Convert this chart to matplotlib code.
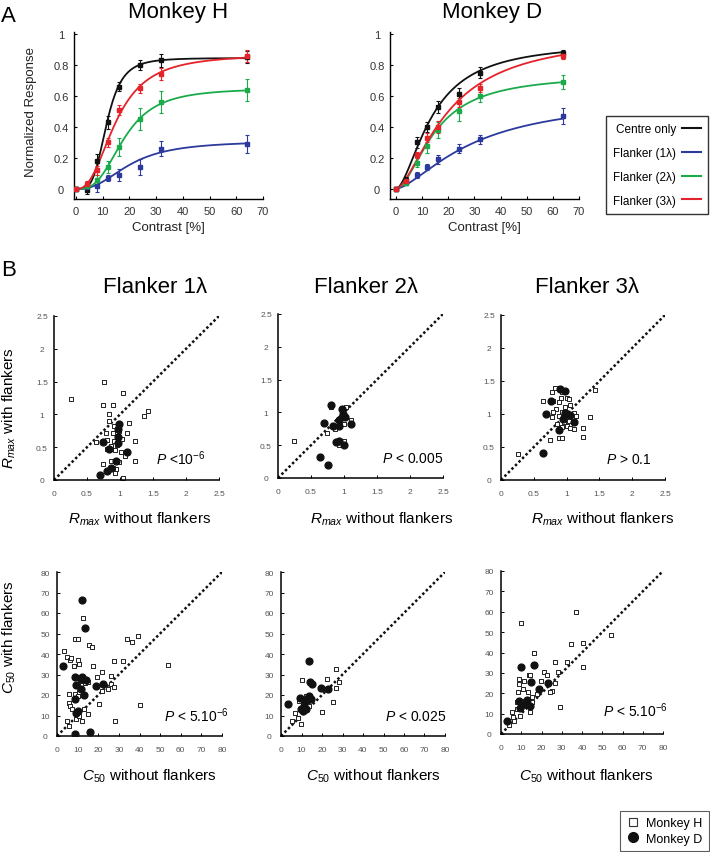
import numpy as np
import matplotlib
matplotlib.use("Agg")
import matplotlib.pyplot as plt
from matplotlib.lines import Line2D

plt.rcParams['font.family'] = ['Liberation Sans', 'DejaVu Sans']
plt.rcParams['mathtext.fontset'] = 'custom'
plt.rcParams['mathtext.rm'] = 'Liberation Sans'
plt.rcParams['mathtext.it'] = 'Liberation Sans:italic'

# ---- panel A: contrast response (mean +- sem) ----
contrast = [0, 4, 8, 12, 16, 24, 32, 64]
series_names = ["Centre only", "Flanker (1\u03bb)", "Flanker (2\u03bb)", "Flanker (3\u03bb)"]
series_colors = ["#111111", "#2b3a9c", "#1bab4b", "#e5232b"]

h_centre = [0, -0.01, 0.18, 0.43, 0.66, 0.80, 0.83, 0.85]
h_centre_err = [0.01, 0.02, 0.045, 0.04, 0.03, 0.03, 0.04, 0.04]
h_f1 = [0, 0.01, 0.02, 0.07, 0.09, 0.14, 0.26, 0.29]
h_f1_err = [0.01, 0.02, 0.04, 0.02, 0.04, 0.05, 0.05, 0.06]
h_f2 = [0, 0.02, 0.06, 0.14, 0.27, 0.45, 0.56, 0.64]
h_f2_err = [0.01, 0.02, 0.03, 0.04, 0.06, 0.07, 0.07, 0.07]
h_f3 = [0, 0.03, 0.12, 0.30, 0.51, 0.65, 0.74, 0.86]
h_f3_err = [0.01, 0.02, 0.03, 0.03, 0.03, 0.03, 0.04, 0.04]

d_centre = [0, 0.06, 0.30, 0.40, 0.53, 0.61, 0.75, 0.88]
d_centre_err = [0.01, 0.02, 0.035, 0.03, 0.04, 0.04, 0.035, 0.02]
d_f1 = [0, 0.04, 0.09, 0.14, 0.19, 0.26, 0.32, 0.47]
d_f1_err = [0.01, 0.01, 0.02, 0.02, 0.03, 0.03, 0.03, 0.05]
d_f2 = [0, 0.04, 0.17, 0.28, 0.38, 0.50, 0.60, 0.69]
d_f2_err = [0.01, 0.01, 0.03, 0.05, 0.05, 0.06, 0.04, 0.045]
d_f3 = [0, 0.05, 0.22, 0.33, 0.40, 0.56, 0.65, 0.86]
d_f3_err = [0.01, 0.01, 0.02, 0.03, 0.04, 0.03, 0.025, 0.02]

# Naka-Rushton fit parameters (Rmax, C50, n)
h_fits = [(0.845, 11.5, 4.0), (0.31, 20, 2.5), (0.65, 18, 3.0), (0.87, 15, 2.5)]
d_fits = [(0.95, 14, 1.7), (0.60, 30, 1.5), (0.74, 15, 1.8), (1.0, 20, 1.6)]

# ---- panel B: per-cell parameters ----
r1_h_x = [0.25, 0.76, 1.04, 0.75, 0.90, 0.84, 1.36, 1.43, 1.14, 0.83, 0.91, 0.99, 0.79, 0.89, 0.98, 1.11,
          0.64, 0.81, 0.91, 1.03, 1.23, 0.80, 0.93, 1.01, 1.07, 1.23, 0.74, 0.87, 0.99, 0.94, 0.89, 0.93,
          1.04, 0.97, 0.87, 0.95]
r1_h_y = [1.23, 1.50, 1.33, 1.15, 1.14, 1.00, 0.98, 1.05, 0.87, 0.90, 0.82, 0.82, 0.71, 0.72, 0.75, 0.71,
          0.58, 0.61, 0.59, 0.63, 0.60, 0.47, 0.45, 0.43, 0.37, 0.29, 0.25, 0.29, 0.27, 0.17, 0.19, 0.10,
          0.03, 0.67, 0.52, 0.53]
r1_d_x = [0.99, 0.97, 0.75, 0.97, 0.84, 1.11, 0.94, 0.81, 0.69, 0.86, 0.97]
r1_d_y = [0.86, 0.77, 0.58, 0.57, 0.48, 0.43, 0.29, 0.13, 0.08, 0.18, 0.66]

r2_h_x = [0.24, 0.74, 0.80, 1.03, 1.11, 0.88, 0.86, 0.93, 1.00, 1.00, 0.91, 0.96]
r2_h_y = [0.56, 0.69, 1.08, 1.08, 0.88, 0.80, 0.74, 0.51, 0.56, 0.83, 0.89, 0.93]
r2_d_x = [0.80, 0.97, 0.69, 0.83, 0.92, 0.98, 1.01, 1.11, 0.88, 0.93, 1.00, 0.63, 0.75, 0.93]
r2_d_y = [1.11, 1.05, 0.84, 0.80, 0.88, 0.98, 0.93, 0.83, 0.55, 0.57, 0.51, 0.32, 0.20, 0.80]

r3_h_x = [0.26, 0.74, 0.88, 0.93, 1.25, 1.25, 1.36, 1.44, 0.64, 0.77, 0.83, 0.90, 0.93, 0.91, 1.00, 1.04,
          0.79, 0.89, 0.98, 1.05, 0.84, 0.80, 0.77, 0.88, 0.93, 1.02, 1.11, 1.15, 0.86, 0.96, 1.00, 1.05,
          1.11, 0.93, 0.98, 1.04]
r3_h_y = [0.39, 0.61, 0.64, 0.64, 0.65, 0.79, 0.96, 1.36, 1.20, 1.33, 1.39, 1.39, 1.34, 1.25, 1.24, 1.23,
          1.20, 1.18, 1.11, 1.13, 1.07, 1.03, 0.95, 0.97, 1.03, 1.00, 1.02, 0.97, 0.85, 0.88, 0.82, 0.79,
          0.77, 0.80, 0.93, 0.90]
r3_d_x = [0.90, 0.97, 0.76, 0.69, 0.98, 1.05, 1.12, 0.88, 0.64, 0.95]
r3_d_y = [1.38, 1.35, 1.20, 1.00, 1.01, 0.98, 0.88, 0.76, 0.41, 0.92]

c1_h_x = [3.3, 4.9, 6.2, 7.0, 8.2, 8.5, 10.1, 10.1, 10.6, 12.6, 15.5, 17.1, 17.5, 19.3, 22.0, 27.4, 31.8,
          33.8, 36.3, 39.5, 53.6, 40.0, 28.2, 26.1, 26.1, 27.8, 24.5, 22.0, 20.4, 15.0, 5.7, 5.7, 6.5, 7.3,
          4.9, 5.7, 8.7, 8.7, 10.1, 10.6, 11.9, 11.9, 13.6, 14.7, 15.1, 9.0, 13.1, 10.6, 10.1]
c1_h_y = [41.5, 38.7, 37.1, 37.9, 34.1, 47.5, 47.2, 37.1, 35.0, 57.7, 44.2, 43.6, 34.1, 28.9, 31.4, 36.6, 36.6,
          47.2, 46.0, 48.8, 34.6, 15.0, 7.3, 29.3, 25.5, 23.9, 22.8, 22.0, 15.4, 10.6, 20.3, 16.3, 14.6, 13.0,
          7.3, 4.9, 20.3, 17.6, 24.4, 21.5, 26.8, 7.3, 26.0, 26.8, 26.5, 8.1, 13.0, 9.8, 19.5]
c1_d_x = [11.9, 13.6, 2.8, 8.7, 11.4, 12.2, 14.2, 9.3, 18.8, 22.4, 13.1, 8.7, 10.1, 9.0, 8.7, 15.8, 11.4]
c1_d_y = [66.3, 52.8, 34.1, 28.9, 27.6, 28.8, 27.3, 24.7, 24.4, 25.2, 20.0, 18.2, 12.2, 11.4, 0.8, 2.1, 22.8]

c2_h_x = [5.2, 6.9, 8.2, 9.8, 10.3, 9.0, 10.6, 19.9, 22.5, 26.6, 26.9, 28.2, 25.3, 12.2, 13.1, 13.9]
c2_h_y = [7.3, 11.1, 8.9, 5.7, 27.2, 17.1, 15.4, 11.9, 27.6, 32.8, 23.6, 26.3, 16.6, 19.5, 17.1, 14.6]
c2_d_x = [3.6, 13.6, 14.2, 15.0, 19.3, 22.9, 9.5, 9.8, 11.4, 13.1, 13.9, 14.4, 11.8, 10.6, 12.2]
c2_d_y = [15.4, 36.6, 26.5, 25.2, 23.6, 23.1, 18.7, 13.3, 14.6, 18.7, 19.5, 18.2, 17.1, 12.2, 13.0]

c3_h_x = [10.0, 16.1, 37.0, 34.6, 40.3, 40.7, 54.3, 26.7, 32.5, 28.0, 21.0, 22.6, 19.7, 26.7, 25.1, 24.3,
          28.9, 8.7, 8.7, 8.5, 11.6, 13.6, 14.1, 11.1, 13.3, 15.2, 17.7, 15.2, 14.1, 10.3, 7.9, 5.4, 6.2,
          3.8, 9.5, 7.9, 5.9, 12.0]
c3_h_y = [54.4, 39.7, 59.9, 44.1, 44.9, 33.1, 48.7, 35.1, 35.1, 30.5, 30.2, 28.9, 25.8, 25.0, 21.2, 20.7,
          13.1, 26.9, 24.5, 20.4, 26.1, 29.1, 29.1, 22.0, 20.4, 18.0, 19.6, 15.5, 10.6, 13.9, 12.2, 10.6, 6.5,
          4.4, 9.0, 15.5, 8.2, 16.3]
c3_d_x = [10.0, 16.4, 14.8, 23.0, 19.0, 8.7, 12.8, 14.1, 12.3, 9.5, 3.0]
c3_d_y = [32.7, 33.8, 25.3, 24.8, 22.0, 16.3, 16.8, 13.9, 14.7, 12.6, 6.2]

W, H = 710, 853


def box(left, top, right, bottom):
    return [left / W, 1 - bottom / H, (right - left) / W, (bottom - top) / H]


def naka_rushton(c, rmax, c50, n):
    return rmax * c ** n / (c ** n + c50 ** n)


fig = plt.figure(figsize=(7.1, 8.53), dpi=100)

# ---------------- panel A ----------------
axH = fig.add_axes(box(74, 33, 263, 200))
axD = fig.add_axes(box(390, 33, 579, 200))

h_vals = [h_centre, h_f1, h_f2, h_f3]
h_errs = [h_centre_err, h_f1_err, h_f2_err, h_f3_err]
d_vals = [d_centre, d_f1, d_f2, d_f3]
d_errs = [d_centre_err, d_f1_err, d_f2_err, d_f3_err]

for ax, vals, errs, fits, xmin in [(axH, h_vals, h_errs, h_fits, -0.75), (axD, d_vals, d_errs, d_fits, -2.3)]:
    cc = np.linspace(0, contrast[-1], 300)
    for i in range(4):
        ax.plot(cc, naka_rushton(cc, *fits[i]), color=series_colors[i], lw=1.3, zorder=2)
        ax.errorbar(contrast, vals[i], yerr=errs[i], fmt='s', ms=2.3, color=series_colors[i],
                    elinewidth=0.8, capsize=1.6, capthick=0.8, zorder=3)
    ax.set_xlim(xmin, 70)
    ax.set_ylim(-0.065, 1.013)
    ax.set_xticks(range(0, 71, 10))
    ax.set_yticks([0, 0.2, 0.4, 0.6, 0.8, 1])
    ax.set_yticklabels(["0", "0.2", "0.4", "0.6", "0.8", "1"])
    ax.spines['top'].set_visible(False)
    ax.spines['right'].set_visible(False)
    ax.spines['left'].set_linewidth(1.0)
    ax.spines['bottom'].set_linewidth(1.0)
    ax.tick_params(direction='in', length=2.5, width=0.8, labelsize=8, labelcolor='#333333')
    ax.tick_params(axis='y', pad=9.4)
    ax.tick_params(axis='x', pad=5)
    for lab in ax.get_yticklabels():
        lab.set_ha('center')
    ax.set_xlabel("Contrast [%]", fontsize=9.5, color='#222222', labelpad=4)

fig.text(31 / W, 1 - 112 / H, "Normalized Response", fontsize=9.5, color='#222222',
         rotation=90, ha='center', va='center')

fig.text(178 / W, 1 - 18 / H, "Monkey H", fontsize=16, ha='center', va='baseline')
fig.text(492 / W, 1 - 18 / H, "Monkey D", fontsize=16, ha='center', va='baseline')
fig.text(1 / W, 1 - 22 / H, "A", fontsize=16, ha='left', va='baseline')

handles = [Line2D([], [], color=c, lw=1.5) for c in series_colors]
leg = fig.legend(handles, series_names, loc='upper right', bbox_to_anchor=(708 / W, 1 - 117 / H),
                 markerfirst=False, fontsize=8.5, frameon=True, fancybox=False, edgecolor='black',
                 borderpad=0.6, labelspacing=1.0, handlelength=1.6, handletextpad=0.5, borderaxespad=0)
leg.get_frame().set_linewidth(1.0)

# ---------------- panel B ----------------
fig.text(1 / W, 1 - 276 / H, "B", fontsize=16, ha='left', va='baseline')

b_boxes = [box(54, 317, 219, 481), box(278, 315, 443, 479), box(501, 316, 665, 481),
           box(57, 573, 222, 737), box(281, 573, 445, 737), box(501, 572, 663, 735)]
b_data = [(r1_h_x, r1_h_y, r1_d_x, r1_d_y), (r2_h_x, r2_h_y, r2_d_x, r2_d_y), (r3_h_x, r3_h_y, r3_d_x, r3_d_y),
          (c1_h_x, c1_h_y, c1_d_x, c1_d_y), (c2_h_x, c2_h_y, c2_d_x, c2_d_y), (c3_h_x, c3_h_y, c3_d_x, c3_d_y)]
p_texts = [r"$P$ <10$^{-6}$", r"$P$ < 0.005", r"$P$ > 0.1",
           r"$P$ < 5.10$^{-6}$", r"$P$ < 0.025", r"$P$ < 5.10$^{-6}$"]
p_pos = [(0.92, 0.095), (1.0, 0.10), (0.92, 0.10), (1.04, 0.09), (1.01, 0.10), (1.03, 0.11)]

for k in range(6):
    ax = fig.add_axes(b_boxes[k])
    hx, hy, dx, dy = b_data[k]
    top = 2.5 if k < 3 else 80
    ax.plot([0, top], [0, top], ls=(0, (1, 1)), color='#111111', lw=1.8, zorder=1)
    ax.scatter(hx, hy, marker='s', s=9, facecolors='white', edgecolors='#222222', linewidths=0.7, zorder=2)
    ax.scatter(dx, dy, marker='o', s=24, color='#111111', zorder=3)
    ax.set_xlim(0, top)
    ax.set_ylim(0, top)
    if k < 3:
        ticks = [0, 0.5, 1, 1.5, 2, 2.5]
        labels = ["0", "0.5", "1", "1.5", "2", "2.5"]
    else:
        ticks = list(range(0, 81, 10))
        labels = [str(t) for t in ticks]
    ax.set_xticks(ticks)
    ax.set_xticklabels(labels)
    ax.set_yticks(ticks)
    ax.set_yticklabels(labels)
    ax.spines['top'].set_visible(False)
    ax.spines['right'].set_visible(False)
    ax.spines['left'].set_linewidth(1.1)
    ax.spines['bottom'].set_linewidth(1.1)
    ax.tick_params(direction='in', length=2, width=0.7, labelsize=6, labelcolor='#555555')
    ax.tick_params(axis='y', pad=8.6)
    ax.tick_params(axis='x', pad=7)
    for lab in ax.get_yticklabels():
        lab.set_ha('center')
    ax.text(p_pos[k][0], p_pos[k][1], p_texts[k], transform=ax.transAxes, ha='right', va='baseline',
            fontsize=10)

# column titles and axis labels
for xc, t in [(155, "Flanker 1\u03bb"), (366, "Flanker 2\u03bb"), (587, "Flanker 3\u03bb")]:
    fig.text(xc / W, 1 - 293 / H, t, fontsize=16, ha='center', va='baseline')
for xc in [140, 382, 603]:
    fig.text(xc / W, 1 - 524 / H, r"$R_{max}$ without flankers", fontsize=11, ha='center', va='baseline')
for xc in [149, 373, 586]:
    fig.text(xc / W, 1 - 781 / H, r"$C_{50}$ without flankers", fontsize=11, ha='center', va='baseline')
fig.text(9 / W, 1 - 408 / H, r"$R_{max}$ with flankers", fontsize=11, rotation=90, ha='center', va='center')
fig.text(9 / W, 1 - 637 / H, r"$C_{50}$ with flankers", fontsize=11, rotation=90, ha='center', va='center')

mk = [Line2D([], [], marker='s', ls='none', ms=6, mfc='white', mec='#333333', mew=0.8),
      Line2D([], [], marker='o', ls='none', ms=7, color='#111111')]
leg2 = fig.legend(mk, ["Monkey H", "Monkey D"], loc='lower right', bbox_to_anchor=(709 / W, 1 / H),
                  fontsize=9, frameon=True, fancybox=False, edgecolor='#333333', borderpad=0.5,
                  labelspacing=0.3, handlelength=1.0, handletextpad=0.6, borderaxespad=0)
leg2.get_frame().set_linewidth(0.8)

fig.savefig("out.png", dpi=100)
